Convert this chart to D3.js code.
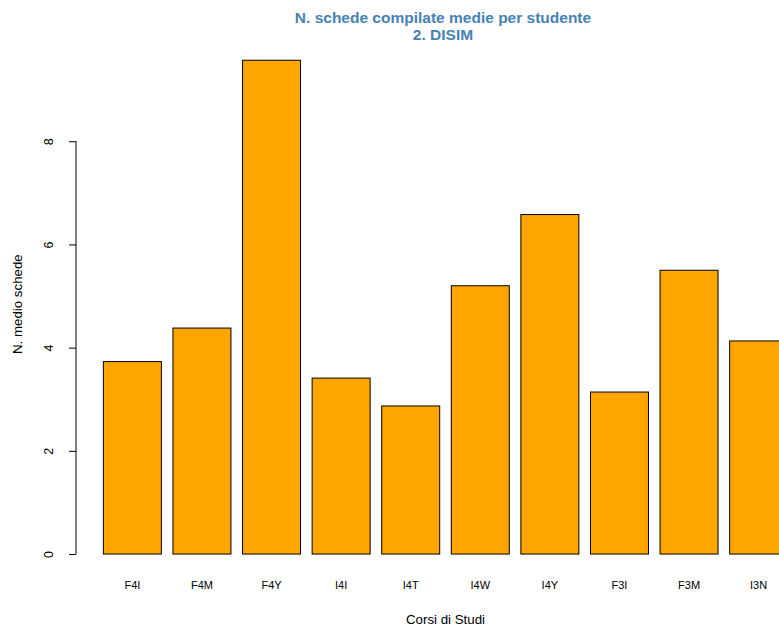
<!DOCTYPE html>
<html>
<head>
<meta charset="utf-8">
<script src="https://cdn.jsdelivr.net/npm/d3@7"></script>
<style>
  html, body { margin: 0; padding: 0; background: #fff; }
  svg { display: block; font-family: "Liberation Sans", Arial, Helvetica, sans-serif; }
</style>
</head>
<body>
<svg id="chart" width="779" height="630"></svg>
<script>
// ---- data ----
const categories = ["F4I", "F4M", "F4Y", "I4I", "I4T", "I4W", "I4Y", "F3I", "F3M", "I3N"];
const values = [3.73, 4.38, 9.57, 3.41, 2.87, 5.20, 6.58, 3.14, 5.50, 4.13];
const yTicks = [0, 2, 4, 6, 8];
const titleLines = ["N. schede compilate medie per studente", "2. DISIM"];
const xLabel = "Corsi di Studi";
const yLabel = "N. medio schede";

// ---- layout (R barplot-like) ----
const W = 779, H = 630;
const plot = { left: 76, right: 815, top: 40.5, bottom: 573.8 };
const space = 0.2, barW = 1;
const n = categories.length;
const uMin = space, uMax = n * (barW + space);
const ext = (uMax - uMin) * 0.04;
const maxV = d3.max(values);

const svg = d3.select("#chart");

const x = d3.scaleLinear()
  .domain([uMin - ext, uMax + ext])
  .range([plot.left, plot.right]);

const y = d3.scaleLinear()
  .domain([-0.04 * maxV, maxV * 1.04])
  .range([plot.bottom, plot.top]);

// bars
svg.append("g")
  .selectAll("rect")
  .data(values)
  .join("rect")
  .attr("x", (d, i) => x(space + i * (barW + space)))
  .attr("width", (d, i) => x(space + i * (barW + space) + barW) - x(space + i * (barW + space)))
  .attr("y", d => y(d))
  .attr("height", d => y(0) - y(d))
  .attr("fill", "#FFA500")
  .attr("stroke", "#000")
  .attr("stroke-width", 1);

// category labels
svg.append("g")
  .selectAll("text")
  .data(categories)
  .join("text")
  .attr("x", (d, i) => x(space + i * (barW + space) + barW / 2))
  .attr("y", 588.5)
  .attr("text-anchor", "middle")
  .attr("font-size", "11px")
  .attr("fill", "#000")
  .text(d => d);

// y axis
const yAxis = d3.axisLeft(y)
  .tickValues(yTicks)
  .tickSize(7)
  .tickSizeOuter(0)
  .tickFormat(d3.format("d"));

const gy = svg.append("g")
  .attr("transform", `translate(${plot.left},0)`)
  .call(yAxis);
gy.select(".domain").remove();
gy.append("line")
  .attr("x1", 0).attr("x2", 0)
  .attr("y1", y(yTicks[0])).attr("y2", y(yTicks[yTicks.length - 1]))
  .attr("stroke", "#000");
gy.selectAll(".tick line").attr("stroke", "#000");
gy.selectAll(".tick text")
  .attr("x", null).attr("dy", null)
  .attr("font-size", "12.5px")
  .attr("fill", "#000")
  .attr("font-family", "Liberation Sans, Arial, sans-serif")
  .attr("text-anchor", "middle")
  .attr("transform", "translate(-27,0) rotate(-90)")
  .attr("y", 0)
  .attr("dy", "0.35em");

// axis titles
svg.append("text")
  .attr("x", (plot.left + plot.right) / 2)
  .attr("y", 624)
  .attr("text-anchor", "middle")
  .attr("font-size", "13.3px")
  .attr("fill", "#000")
  .text(xLabel);

svg.append("text")
  .attr("transform", `translate(21.5,${(plot.top + plot.bottom) / 2 - 3}) rotate(-90)`)
  .attr("text-anchor", "middle")
  .attr("font-size", "13.3px")
  .attr("fill", "#000")
  .text(yLabel);

// title
svg.append("g")
  .selectAll("text")
  .data(titleLines)
  .join("text")
  .attr("x", 443)
  .attr("y", (d, i) => 23 + i * 17)
  .attr("text-anchor", "middle")
  .attr("font-size", "15.5px")
  .attr("font-weight", "bold")
  .attr("fill", "#4682B4")
  .text(d => d);
</script>
</body>
</html>
